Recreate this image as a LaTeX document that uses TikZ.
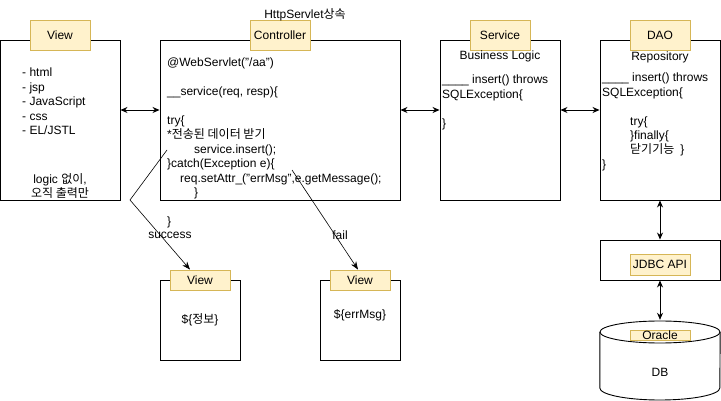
\documentclass[tikz,border=0pt]{standalone}
\usepackage{fontspec}
\setmainfont{Liberation Sans}
\newfontfamily\kr{Noto Sans CJK KR}
\usetikzlibrary{arrows.meta}
\definecolor{tagfill}{RGB}{255, 242, 204}
\definecolor{tagdraw}{RGB}{214, 182, 86}

\tikzset{
    layerbox/.style={draw, line width=0.9pt, minimum width=120pt, minimum height=160pt, inner sep=0pt},
    tagbox/.style={fill=tagfill, draw=tagdraw, line width=0.9pt, minimum width=60pt, minimum height=30pt, inner sep=0pt},
    codetext/.style={anchor=north west, align=left, inner sep=0pt},
    dblarrow/.style={{Stealth[length=7pt,width=6pt]}-{Stealth[length=7pt,width=6pt]}, line width=0.8pt},
    flow/.style={-{Stealth[length=8pt,width=6pt]}, line width=0.6pt}
}

\begin{document}
\begin{tikzpicture}[x=1pt, y=-1pt, font=\fontsize{12pt}{14.4pt}\selectfont]
    \useasboundingbox (0,0) rectangle (721,401);

    % main layers
    \node[layerbox] (view) at (60,120) {};
    \node[layerbox, minimum width=240pt] (ctrl) at (280,120) {};
    \node[layerbox] (service) at (500,120) {};
    \node[layerbox] (dao) at (660,120) {};

    \node[tagbox] (viewtag) at (60,35) {View};
    \node[tagbox] (ctrltag) at (280,35) {Controller};
    \node[tagbox] (servicetag) at (500,35) {Service};
    \node[tagbox] (daotag) at (660,35) {DAO};
    \node (servlet) at (305,15) {HttpServlet{\kr 상속}};

    % view contents
    \node[codetext] (viewlist) at (22,68) {- html\\- jsp\\- JavaScript\\- css\\- EL/JSTL};
    \node[align=center, inner sep=0pt] (viewnote) at (60,186) {logic {\kr 없이},\\{\kr 오직 출력만}};

    % controller contents
    \node[codetext] (ctrlcode) at (167,58) {@WebServlet("/aa")\\\mbox{}\\\_\_service(req, resp)\{\\\mbox{}\\try\{\\*{\kr 전송된 데이터 받기}\\\hspace*{27pt}service.insert();\\\}catch(Exception e)\{\\\hspace*{13pt}req.setAttr\_("errMsg",e.getMessage();\\\hspace*{27pt}\}\\\mbox{}\\\}};

    % service contents
    \node (servicetitle) at (500,56) {Business Logic};
    \node[codetext] (servicecode) at (442,75) {\_\_\_\_ insert() throws\\SQLException\{\\\mbox{}\\\}};

    % dao contents
    \node (daotitle) at (660,57) {Repository};
    \node[codetext] (daocode) at (602,73) {\_\_\_\_ insert() throws\\SQLException\{\\\mbox{}\\\hspace*{28pt}try\{\\\hspace*{28pt}\}finally\{\\\hspace*{28pt}{\kr 닫기기능}\hspace*{6pt}\}\\\}};

    % jdbc and db
    \node[draw, line width=0.9pt, minimum width=120pt, minimum height=40pt] (jdbc) at (660,260) {};
    \node[tagbox, minimum height=21pt] (jdbctag) at (660,264.5) {JDBC API};
    \node[minimum width=120pt, minimum height=80pt] (db) at (660,360) {};
    \draw[line width=0.9pt, fill=white] (db.west |- 0,332) -- (db.west |- 0,388)
        arc[start angle=180, end angle=360, x radius=60pt, y radius=12pt]
        -- (db.east |- 0,332);
    \draw[line width=0.9pt, fill=white] (660,332) ellipse[x radius=60pt, y radius=11pt];
    \node[tagbox, minimum height=10pt] (oracletag) at (660,335) {Oracle};
    \node (dbtext) at (660,372) {DB};

    % result views
    \node[draw, line width=0.9pt, minimum width=80pt, minimum height=80pt] (okview) at (200,320) {};
    \node[tagbox, minimum height=20pt] (okviewtag) at (200,280) {View};
    \node (oktext) at (200,320) {\$\{{\kr 정보}\}};
    \node[draw, line width=0.9pt, minimum width=80pt, minimum height=80pt] (errview) at (360,320) {};
    \node[tagbox, minimum height=20pt] (errviewtag) at (360,280) {View};
    \node (errtext) at (360,315) {\$\{errMsg\}};

    % connectors
    \draw[dblarrow] ([yshift=10pt]view.east) -- ([yshift=10pt]ctrl.west);
    \draw[dblarrow] ([yshift=10pt]ctrl.east) -- ([yshift=10pt]service.west);
    \draw[dblarrow] ([yshift=10pt]service.east) -- ([yshift=10pt]dao.west);
    \draw[dblarrow] (dao.south) -- (jdbc.north);
    \draw[dblarrow] (jdbc.south) -- (db.north);

    \coordinate (okstart) at (167,150);
    \coordinate (errstart) at (292,170);
    \draw[flow] (okstart) -- (130,200) -- ([xshift=-10pt]okviewtag.north);
    \draw[flow] (errstart) -- ([xshift=-2pt]errviewtag.north);
    \node (oklabel) at (170,235) {success};
    \node (errlabel) at (340,235) {fail};
\end{tikzpicture}
\end{document}
